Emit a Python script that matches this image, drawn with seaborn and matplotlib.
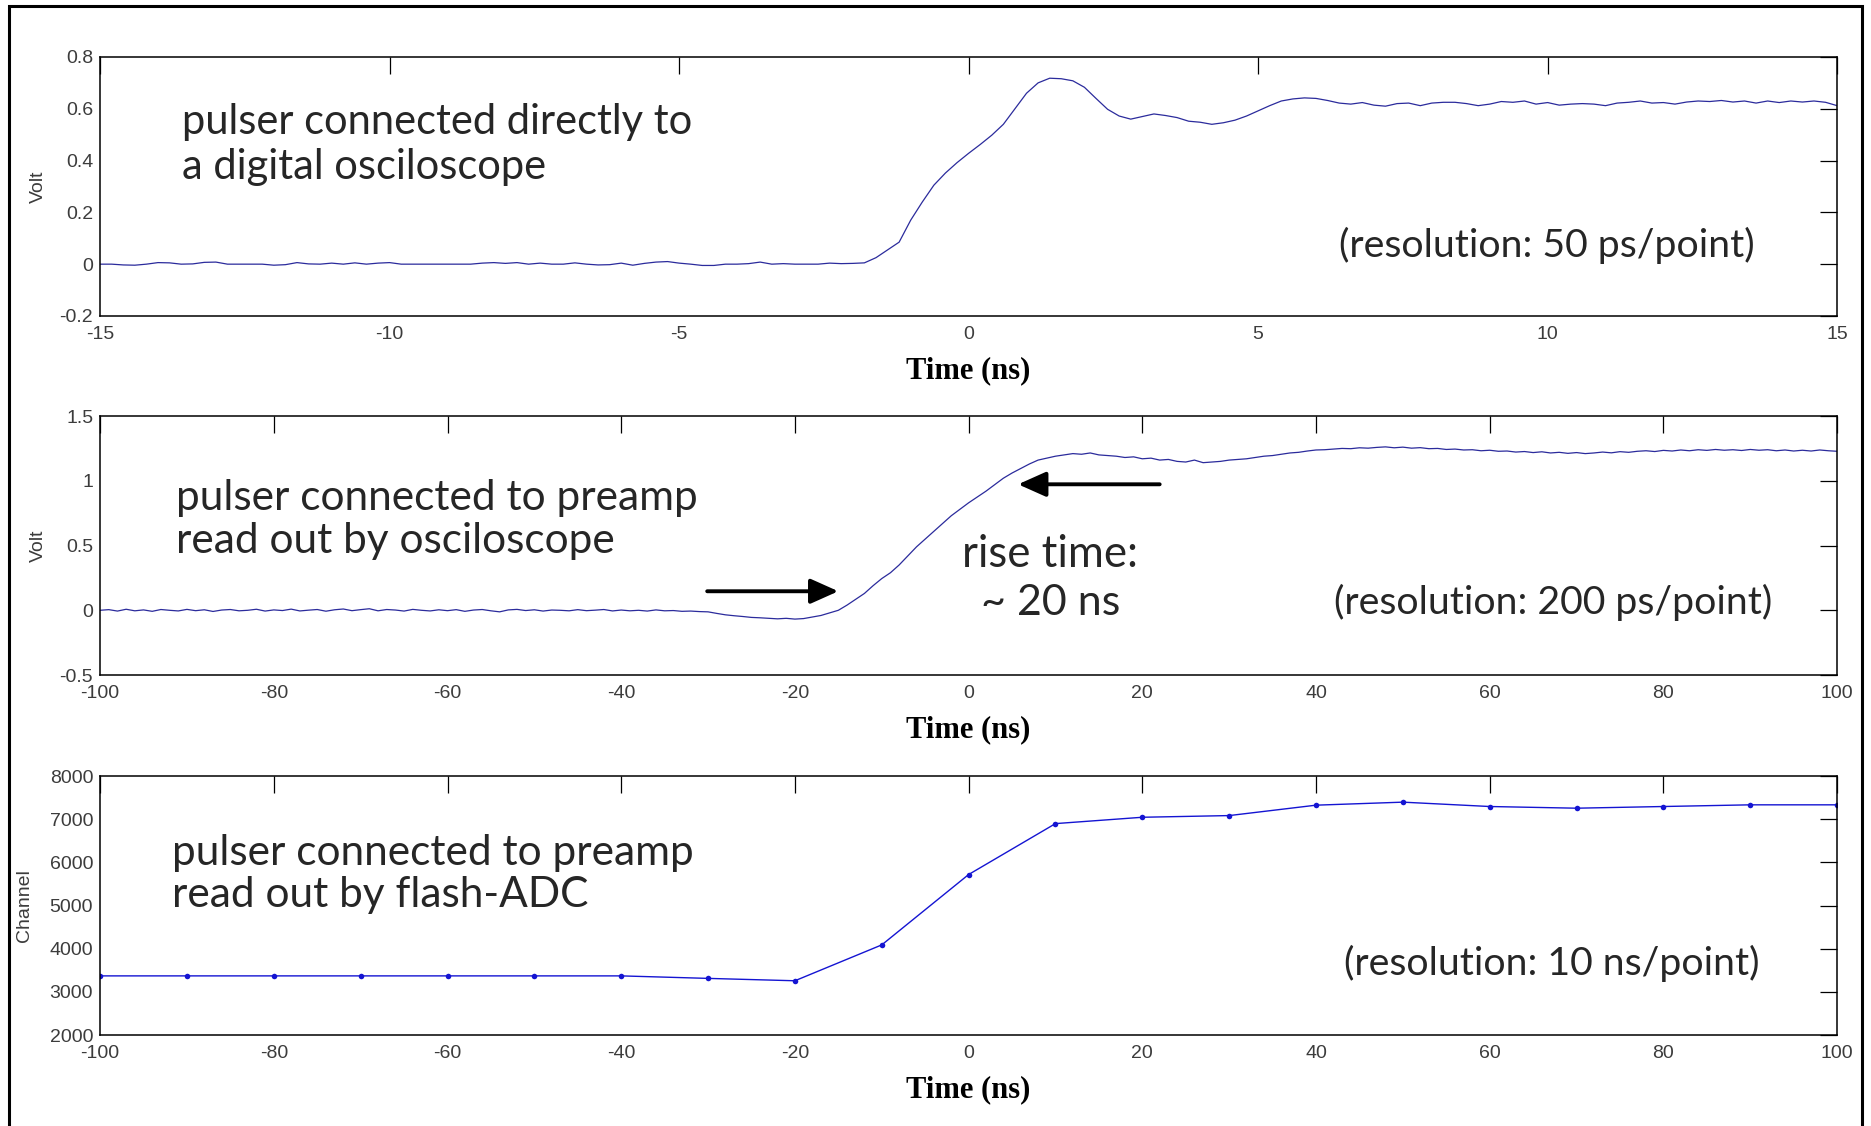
import numpy as np
import pandas as pd
import matplotlib
matplotlib.use("Agg")
import matplotlib.pyplot as plt
from matplotlib.patches import Rectangle
import seaborn as sns

# ---------------- data ----------------
# Panel 1: pulser straight into a digital oscilloscope (Volt vs ns)
scope_t = np.round(np.arange(-15.0, 15.0001, 0.2), 1)
scope_v = [
    0.000, 0.000, -0.003, -0.004, 0.000, 0.006, 0.005, 0.000, 0.001, 0.007,
    0.008, 0.000, 0.000, 0.000, 0.000, -0.004, -0.002, 0.006, 0.001, 0.000,
    0.004, 0.000, 0.005, 0.000, 0.004, 0.006, 0.000, 0.000, 0.000, 0.000,
    0.000, 0.000, 0.000, 0.004, 0.006, 0.003, 0.006, 0.000, 0.004, 0.000,
    0.000, 0.005, 0.000, -0.003, -0.002, 0.004, -0.004, 0.003, 0.008, 0.010,
    0.004, 0.000, -0.005, -0.005, 0.000, 0.000, 0.002, 0.008, 0.000, 0.002,
    0.000, 0.000, 0.000, 0.004, 0.002, 0.003, 0.005,
    0.025, 0.055, 0.085, 0.170, 0.240, 0.305, 0.352, 0.392, 0.428, 0.462,
    0.498, 0.540, 0.600, 0.660, 0.700, 0.718, 0.716, 0.708, 0.683, 0.640,
    0.598, 0.572, 0.560, 0.570, 0.580, 0.574, 0.566, 0.552, 0.548, 0.540,
    0.546, 0.556, 0.572, 0.592, 0.612, 0.630, 0.638, 0.642, 0.640, 0.632,
    0.622, 0.618, 0.624, 0.614, 0.610, 0.620, 0.622, 0.612, 0.622, 0.625,
    0.625, 0.620, 0.612, 0.618, 0.628, 0.625, 0.630, 0.618, 0.624, 0.614,
    0.618, 0.620, 0.618, 0.612, 0.622, 0.625, 0.630, 0.622, 0.624, 0.618,
    0.626, 0.630, 0.628, 0.632, 0.626, 0.630, 0.622, 0.630, 0.624, 0.630,
    0.626, 0.630, 0.625, 0.612,
]

# Panel 2: pulser through the preamp, read by the oscilloscope (Volt vs ns)
preamp_t = np.arange(-100, 101, 1)
preamp_v = [
    0.000, 0.005, -0.006, 0.008, -0.004, 0.003, -0.008, 0.006, 0.000, -0.005,
    0.007, -0.003, 0.004, -0.009, 0.002, 0.006, -0.004, 0.000, 0.008, -0.006,
    0.003, -0.002, 0.009, -0.005, 0.001, 0.006, -0.007, 0.004, 0.010, -0.003,
    0.005, 0.012, -0.004, 0.006, 0.002, -0.006, 0.007, 0.000, -0.005, 0.004,
    -0.003, 0.005, -0.008, 0.002, 0.006, -0.004, -0.012, 0.003, 0.007, -0.002,
    0.004, -0.006, 0.002, 0.000, -0.004, 0.005, -0.003, 0.001, 0.006, -0.005,
    0.002, -0.004, 0.000, -0.006, 0.003,
    -0.004, -0.002, -0.008, -0.006, -0.010, -0.012, -0.024, -0.035, -0.042, -0.048,
    -0.055, -0.058, -0.062, -0.066, -0.062, -0.068, -0.064, -0.052, -0.040, -0.020,
    0.000, 0.040, 0.085, 0.130, 0.190, 0.245, 0.290, 0.350, 0.420, 0.490,
    0.550, 0.610, 0.670, 0.730, 0.780, 0.830, 0.875, 0.920, 0.970, 1.020,
    1.060, 1.095, 1.130, 1.160, 1.175, 1.190, 1.200, 1.210, 1.205, 1.215,
    1.200, 1.195, 1.190, 1.180, 1.185, 1.170, 1.175, 1.160, 1.165, 1.150,
    1.145, 1.160, 1.140, 1.145, 1.150, 1.160, 1.165, 1.170, 1.180, 1.190,
    1.195, 1.205, 1.215, 1.220, 1.230, 1.238, 1.240, 1.245, 1.250, 1.248,
    1.255, 1.252, 1.258, 1.262, 1.255, 1.260, 1.252, 1.256, 1.248, 1.250,
    1.242, 1.245, 1.238, 1.240, 1.232, 1.236, 1.228, 1.230, 1.222, 1.226,
    1.218, 1.224, 1.215, 1.220, 1.212, 1.218, 1.210, 1.215, 1.222, 1.216,
    1.225, 1.220, 1.228, 1.232, 1.226, 1.235, 1.230, 1.238, 1.232, 1.240,
    1.235, 1.242, 1.236, 1.240, 1.234, 1.242, 1.236, 1.240, 1.232, 1.238,
    1.230, 1.236, 1.230, 1.238, 1.232, 1.228,
]

# Panel 3: pulser through the preamp, sampled by the flash-ADC (channel vs ns)
adc_t = [-100, -90, -80, -70, -60, -50, -40, -30, -20, -10, 0,
         10, 20, 30, 40, 50, 60, 70, 80, 90, 100]
adc_ch = [3370, 3370, 3370, 3370, 3370, 3370, 3370, 3312, 3257, 4088, 5718,
          6898, 7045, 7084, 7325, 7395, 7294, 7255, 7294, 7333, 7333]

# axis ticks and labels
p1_xticks = [-15, -10, -5, 0, 5, 10, 15]
p1_yticks = [-0.2, 0, 0.2, 0.4, 0.6, 0.8]
p1_yticklabels = ["-0.2", "0", "0.2", "0.4", "0.6", "0.8"]
p2_xticks = [-100, -80, -60, -40, -20, 0, 20, 40, 60, 80, 100]
p2_yticks = [-0.5, 0, 0.5, 1, 1.5]
p2_yticklabels = ["-0.5", "0", "0.5", "1", "1.5"]
p3_yticks = [2000, 3000, 4000, 5000, 6000, 7000, 8000]
p3_yticklabels = ["2000", "3000", "4000", "5000", "6000", "7000", "8000"]

notes = {
    "p1": ["pulser connected directly to", "a digital osciloscope"],
    "p2": ["pulser connected to preamp", "read out by osciloscope"],
    "p3": ["pulser connected to preamp", "read out by flash-ADC"],
}
res_labels = ["(resolution: 50 ps/point)", "(resolution: 200 ps/point)",
              "(resolution: 10 ns/point)"]
rise_label = ["rise time:", "~ 20 ns"]

# ---------------- style ----------------
sns.set_style("white")
plt.rcParams["font.family"] = ["Liberation Sans", "DejaVu Sans"]

TRACE = "#2b2b9c"
ADC = "#1414d2"
NOTE_FONT = ["Lato", "DejaVu Sans"]
TICK_COLOR = "#3c3c3c"

fig = plt.figure(figsize=(18.71, 11.26), dpi=100)
fig.patch.set_facecolor("white")

L, W, H = 0.0535, 0.9284, 0.230
ax1 = fig.add_axes([L, 0.7194, W, H])
ax2 = fig.add_axes([L, 0.4005, W, H])
ax3 = fig.add_axes([L, 0.0808, W, H])

sns.lineplot(x=scope_t, y=scope_v, ax=ax1, color=TRACE, linewidth=0.9,
             errorbar=None, estimator=None)
sns.lineplot(x=preamp_t, y=preamp_v, ax=ax2, color=TRACE, linewidth=0.9,
             errorbar=None, estimator=None)
sns.lineplot(x=adc_t, y=adc_ch, ax=ax3, color=ADC, linewidth=1.0,
             marker="o", markersize=4, markeredgewidth=0, markerfacecolor=ADC,
             errorbar=None, estimator=None)


def style_axes(ax, xlim, ylim, xticks, yticks, yticklabels, ylabel, ylabel_x):
    ax.set_xlim(*xlim)
    ax.set_ylim(*ylim)
    ax.set_xticks(xticks)
    ax.set_xticklabels([str(t) for t in xticks])
    ax.set_yticks(yticks)
    ax.set_yticklabels(yticklabels)
    ax.set_facecolor("white")
    for s in ax.spines.values():
        s.set_visible(True)
        s.set_color("black")
        s.set_linewidth(1.1)
    ax.tick_params(axis="both", which="major", direction="in", length=12,
                   width=0.9, color="black", top=True, right=True,
                   labelsize=14, labelcolor=TICK_COLOR)
    ax.tick_params(axis="x", pad=7.5)
    ax.tick_params(axis="y", pad=5)
    ax.set_xlabel("Time (ns)", family=["Liberation Serif", "DejaVu Serif"],
                  fontsize=22, fontweight="bold", color="black", labelpad=9)
    ax.set_ylabel(ylabel, fontsize=14, color=TICK_COLOR)
    ax.yaxis.set_label_coords(ylabel_x, 0.5)
    ax.yaxis.label.set_verticalalignment("center")
    ax.grid(False)


style_axes(ax1, (-15, 15), (-0.2, 0.8), p1_xticks, p1_yticks, p1_yticklabels,
           "Volt", -0.0357)
style_axes(ax2, (-100, 100), (-0.5, 1.5), p2_xticks, p2_yticks, p2_yticklabels,
           "Volt", -0.0357)
style_axes(ax3, (-100, 100), (2000, 8000), p2_xticks, p3_yticks, p3_yticklabels,
           "Channel", -0.0438)

NOTE_SIZE = 30.5
RISE_SIZE = 31.5
RES_SIZE = 28.3

# descriptive notes
ax1.text(-13.58, 0.504, notes["p1"][0], family=NOTE_FONT, fontsize=NOTE_SIZE - 0.5, va="baseline")
ax1.text(-13.58, 0.330, notes["p1"][1], family=NOTE_FONT, fontsize=NOTE_SIZE - 0.5, va="baseline")
ax2.text(-91.25, 0.774, notes["p2"][0], family=NOTE_FONT, fontsize=NOTE_SIZE, va="baseline")
ax2.text(-91.25, 0.442, notes["p2"][1], family=NOTE_FONT, fontsize=NOTE_SIZE, va="baseline")
ax3.text(-91.7, 5944, notes["p3"][0], family=NOTE_FONT, fontsize=NOTE_SIZE, va="baseline")
ax3.text(-91.7, 4967, notes["p3"][1], family=NOTE_FONT, fontsize=NOTE_SIZE, va="baseline")

# sampling resolution notes
ax1.text(6.40, 0.028, res_labels[0], family=NOTE_FONT, fontsize=RES_SIZE, va="baseline")
ax2.text(42.1, -0.031, res_labels[1], family=NOTE_FONT, fontsize=RES_SIZE, va="baseline")
ax3.text(43.2, 3386, res_labels[2], family=NOTE_FONT, fontsize=RES_SIZE, va="baseline")

# rise-time annotation with the two arrows
ax2.text(9.4, 0.337, rise_label[0], family=NOTE_FONT, fontsize=RISE_SIZE,
         ha="center", va="baseline")
ax2.text(9.4, -0.037, rise_label[1], family=NOTE_FONT, fontsize=RISE_SIZE - 0.5,
         ha="center", va="baseline")
arrow_kw = dict(arrowstyle="-|>,head_length=0.85,head_width=0.38", lw=2.8,
                color="black", shrinkA=0, shrinkB=0, mutation_scale=20)
ax2.annotate("", xy=(-15.0, 0.147), xytext=(-30.1, 0.147), arrowprops=arrow_kw)
ax2.annotate("", xy=(5.7, 0.973), xytext=(22.0, 0.973), arrowprops=arrow_kw)

# outer frame around the whole figure
fig.add_artist(Rectangle((0.0048, -0.02), 0.9904, 1.0147, transform=fig.transFigure,
                         fill=False, edgecolor="black", linewidth=2.2))

fig.savefig("out.png", dpi=100, facecolor="white")
